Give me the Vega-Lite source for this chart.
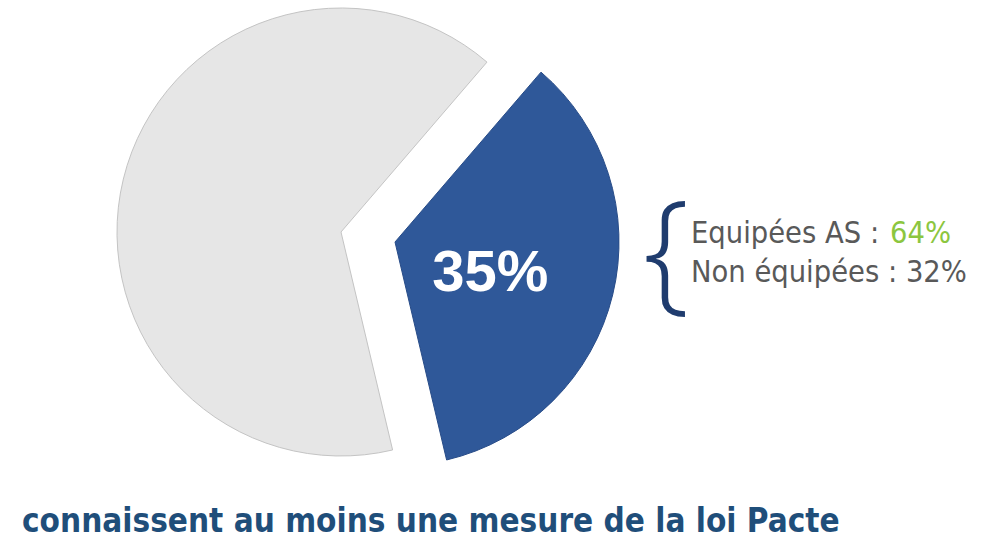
{
  "$schema": "https://vega.github.io/schema/vega-lite/v6.json",
  "autosize": "none",
  "width": 448,
  "height": 448,
  "padding": {"left": 117, "top": 8, "right": 424, "bottom": 85},
  "background": "white",
  "config": {"view": {"stroke": null}},
  "data": {"values": [
    {"category": "Connaissent", "value": 35, "label": "35%"},
    {"category": "Autres", "value": 65, "label": ""}
  ]},
  "layer": [
    {
      "mark": {"type": "arc", "stroke": "#c4c4c4", "strokeWidth": 1},
      "encoding": {
        "theta": {"field": "value", "type": "quantitative", "stack": true, "scale": {"range": [0.71, 6.993]}},
        "order": {"field": "value", "sort": "ascending"},
        "fill": {"condition": {"test": "datum.category === 'Autres'", "value": "#e6e6e6"}, "value": "transparent"},
        "strokeOpacity": {"condition": {"test": "datum.category === 'Autres'", "value": 1}, "value": 0}
      }
    },
    {
      "mark": {"type": "arc", "xOffset": 54, "yOffset": 10, "stroke": "#284c88", "strokeWidth": 1},
      "encoding": {
        "theta": {"field": "value", "type": "quantitative", "stack": true, "scale": {"range": [0.71, 6.993]}},
        "order": {"field": "value", "sort": "ascending"},
        "fill": {"condition": {"test": "datum.category === 'Connaissent'", "value": "#2f5899"}, "value": "transparent"},
        "strokeOpacity": {"condition": {"test": "datum.category === 'Connaissent'", "value": 1}, "value": 0}
      }
    },
    {
      "mark": {"type": "text", "radius": 98, "xOffset": 54, "yOffset": 10, "dy": 9, "fontSize": 58, "fontWeight": "bold", "font": "Liberation Sans", "color": "white", "baseline": "middle", "align": "center"},
      "encoding": {
        "theta": {"field": "value", "type": "quantitative", "stack": true, "scale": {"range": [0.71, 6.993]}},
        "order": {"field": "value", "sort": "ascending"},
        "text": {"field": "label"}
      }
    },
    {
      "data": {"values": [{"t": "{"}]},
      "mark": {"type": "text", "x": 526, "y": 248, "align": "left", "baseline": "middle", "font": "Open Sans", "fontWeight": 300, "fontSize": 132, "color": "#1f3c6e"},
      "encoding": {"text": {"field": "t"}}
    },
    {
      "data": {"values": [{"t": "Equipées AS :"}]},
      "mark": {"type": "text", "x": 574, "y": 235, "align": "left", "baseline": "alphabetic", "font": "DejaVu Sans Condensed, Roboto, sans-serif", "fontSize": 30.5, "color": "#595959"},
      "encoding": {"text": {"field": "t"}}
    },
    {
      "data": {"values": [{"t": "64%"}]},
      "mark": {"type": "text", "x": 773, "y": 235, "align": "left", "baseline": "alphabetic", "font": "DejaVu Sans Condensed, Roboto, sans-serif", "fontSize": 30.5, "color": "#8cc63f"},
      "encoding": {"text": {"field": "t"}}
    },
    {
      "data": {"values": [{"t": "Non équipées : 32%"}]},
      "mark": {"type": "text", "x": 574, "y": 274, "align": "left", "baseline": "alphabetic", "font": "DejaVu Sans Condensed, Roboto, sans-serif", "fontSize": 30.5, "color": "#595959"},
      "encoding": {"text": {"field": "t"}}
    },
    {
      "data": {"values": [{"t": "connaissent au moins une mesure de la loi Pacte"}]},
      "mark": {"type": "text", "x": -95, "y": 524, "align": "left", "baseline": "alphabetic", "font": "DejaVu Sans Condensed, Roboto, sans-serif", "fontWeight": "bold", "fontSize": 33, "color": "#1f4e7a"},
      "encoding": {"text": {"field": "t"}}
    }
  ]
}
